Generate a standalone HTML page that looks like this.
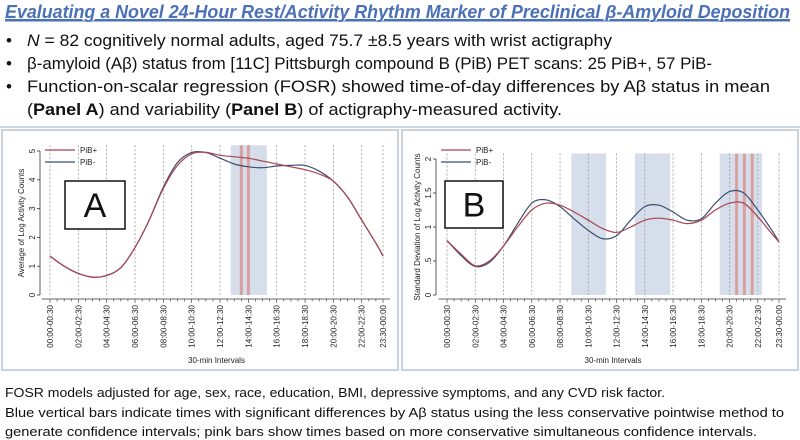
<!DOCTYPE html>
<html><head><meta charset="utf-8"><style>
html,body{margin:0;padding:0;background:#fff;width:800px;height:440px;overflow:hidden}
svg{display:block;font-family:"Liberation Sans",sans-serif}
</style></head><body>
<svg id="root" width="800" height="440" viewBox="0 0 800 440">
<text x="5" y="18" font-size="18" font-style="italic" font-weight="bold" fill="#4a70b8" text-decoration="underline" textLength="785" lengthAdjust="spacingAndGlyphs">Evaluating a Novel 24-Hour Rest/Activity Rhythm Marker of Preclinical β-Amyloid Deposition</text>
<line x1="5" y1="21" x2="790" y2="21" stroke="#4a70b8" stroke-width="1"/>
<g font-size="17" fill="#111">
<text x="6" y="46">•</text>
<text x="27" y="46" textLength="585" lengthAdjust="spacingAndGlyphs"><tspan font-style="italic">N</tspan> = 82 cognitively normal adults, aged 75.7 ±8.5 years with wrist actigraphy</text>
<text x="6" y="69">•</text>
<text x="27" y="69" textLength="685" lengthAdjust="spacingAndGlyphs">β-amyloid (Aβ) status from [11C] Pittsburgh compound B (PiB) PET scans: 25 PiB+, 57 PiB-</text>
<text x="6" y="92">•</text>
<text x="27" y="92" textLength="743" lengthAdjust="spacingAndGlyphs">Function-on-scalar regression (FOSR) showed time-of-day differences by Aβ status in mean</text>
<text x="27" y="115" textLength="535" lengthAdjust="spacingAndGlyphs">(<tspan font-weight="bold">Panel A</tspan>) and variability (<tspan font-weight="bold">Panel B</tspan>) of actigraphy-measured activity.</text>
</g>
<line x1="0" y1="127" x2="800" y2="127" stroke="#9aaac8" stroke-width="1"/>
<g font-size="13" fill="#111">
<text x="5" y="397" textLength="660" lengthAdjust="spacingAndGlyphs">FOSR models adjusted for age, sex, race, education, BMI, depressive symptoms, and any CVD risk factor.</text>
<text x="5" y="417" textLength="779" lengthAdjust="spacingAndGlyphs">Blue vertical bars indicate times with significant differences by Aβ status using the less conservative pointwise method to</text>
<text x="5" y="436" textLength="752" lengthAdjust="spacingAndGlyphs">generate confidence intervals; pink bars show times based on more conservative simultaneous confidence intervals.</text>
</g>
<g id="panelA"></g>
<g id="panelB"></g>
</svg>
<script>
const hours = [0,1,2,3,4,5,6,7,8,9,10,11,12,13,14,15,16,17,18,19,20,21,22,23,23.5];
const tickLabels = ["00:00-00:30","02:00-02:30","04:00-04:30","06:00-06:30","08:00-08:30","10:00-10:30","12:00-12:30","14:00-14:30","16:00-16:30","18:00-18:30","20:00-20:30","22:00-22:30","23:30-00:00"];
const tickHours = [0,2,4,6,8,10,12,14,16,18,20,22,23.5];
const meanPos = [1.35,1.0,0.75,0.62,0.68,0.95,1.65,2.6,3.7,4.5,4.9,4.95,4.85,4.8,4.75,4.65,4.55,4.45,4.35,4.2,3.95,3.4,2.6,1.8,1.35];
const meanNeg = [1.35,1.0,0.75,0.62,0.68,0.95,1.65,2.6,3.75,4.6,4.95,4.95,4.75,4.55,4.45,4.42,4.48,4.5,4.5,4.3,3.95,3.4,2.6,1.8,1.35];
const sdPos = [0.8,0.6,0.43,0.5,0.72,1.0,1.25,1.35,1.32,1.22,1.1,0.98,0.92,1.0,1.1,1.13,1.1,1.05,1.1,1.25,1.35,1.35,1.15,0.9,0.78];
const sdNeg = [0.8,0.58,0.42,0.48,0.72,1.05,1.35,1.4,1.3,1.12,0.95,0.83,0.87,1.1,1.3,1.32,1.22,1.1,1.12,1.35,1.52,1.5,1.25,0.95,0.78];
const blueA = [[12.75,15.3]];
const pinkA = [13.5,14.0];
const blueB = [[8.8,11.25],[13.3,15.8],[19.3,22.3]];
const pinkB = [20.5,21.05,21.6];
const yTicksA = [0,1,2,3,4,5];
const yTicksB = [0,0.5,1,1.5,2];
const yTickLabelsB = ["0",".5","1","1.5","2"];
const NS="http://www.w3.org/2000/svg";
function el(parent,tag,attrs,text){const e=document.createElementNS(NS,tag);for(const k in attrs)e.setAttribute(k,attrs[k]);if(text!=null)e.textContent=text;parent.appendChild(e);return e;}
function smooth(pts){let d="M"+pts[0][0]+","+pts[0][1];for(let i=0;i<pts.length-1;i++){const p0=pts[Math.max(0,i-1)],p1=pts[i],p2=pts[i+1],p3=pts[Math.min(pts.length-1,i+2)];const c1=[p1[0]+(p2[0]-p0[0])/6,p1[1]+(p2[1]-p0[1])/6],c2=[p2[0]-(p3[0]-p1[0])/6,p2[1]-(p3[1]-p1[1])/6];d+=" C"+c1[0].toFixed(1)+","+c1[1].toFixed(1)+" "+c2[0].toFixed(1)+","+c2[1].toFixed(1)+" "+p2[0].toFixed(1)+","+p2[1].toFixed(1);}return d;}
function panel(g,cfg){
  const X=h=>cfg.x0+(cfg.x1-cfg.x0)*h/23.5;
  const Y=v=>cfg.y0-(cfg.y0-cfg.yTop)*v/cfg.yMax;
  const frame=el(g,"rect",{x:cfg.bx,y:130,width:396,height:240,fill:"#fff",stroke:"#b8c4d6","stroke-width":1.5});
  
  
  const top=Y(cfg.yMax*1.04);
  cfg.blue.forEach(b=>{const r=el(g,"rect",{x:X(b[0]),y:top,width:X(b[1])-X(b[0]),height:cfg.y0-top,fill:"#d5deea"});
    
    });
  tickHours.forEach(h=>{const l=el(g,"line",{x1:X(h),x2:X(h),y1:top,y2:cfg.y0,stroke:"#999","stroke-dasharray":"2,2","stroke-width":0.8});
    
    });
  cfg.pink.forEach(p=>{const r=el(g,"rect",{x:X(p)-1.5,y:top,width:3,height:cfg.y0-top,fill:"#d9a0a0"});
    
    });
  el(g,"line",{x1:cfg.axX,x2:cfg.axX,y1:Y(cfg.yMax),y2:cfg.y0,stroke:"#333","stroke-width":0.8});
  el(g,"line",{x1:X(-0.6),x2:X(24),y1:cfg.y0+4,y2:cfg.y0+4,stroke:"#333","stroke-width":0.8});
  for(let i=0;i<48;i++){el(g,"line",{x1:X(i/2),x2:X(i/2),y1:cfg.y0+4,y2:cfg.y0+(i%4==0||i==47?8:6.5),stroke:"#333","stroke-width":0.6});}
  cfg.yTicks.forEach((v,i)=>{el(g,"line",{x1:cfg.axX-3,x2:cfg.axX,y1:Y(v),y2:Y(v),stroke:"#333","stroke-width":0.8});
    const t=el(g,"text",{x:cfg.axX-5,y:Y(v),"font-size":8,fill:"#222","text-anchor":"middle",transform:`rotate(-90 ${cfg.axX-5} ${Y(v)})`},cfg.yLabels[i]);
    
    });
  tickHours.forEach((h,i)=>{const x=X(h)+3,y=cfg.y0+10;const t=el(g,"text",{x:x,y:y,"font-size":8,fill:"#222","text-anchor":"end",transform:`rotate(-90 ${x} ${y})`},tickLabels[i]);
    
    });
  const xt=el(g,"text",{x:(cfg.x0+cfg.x1)/2,y:363,"font-size":8,fill:"#222","text-anchor":"middle"},"30-min Intervals");
  
  
  const yx=cfg.axX-16,yy=(cfg.y0+Y(cfg.yMax))/2;
  const yt=el(g,"text",{x:yx,y:yy,"font-size":8,fill:"#222","text-anchor":"middle",transform:`rotate(-90 ${yx} ${yy})`},cfg.yTitle);
  
  
  const pN=el(g,"path",{d:smooth(hours.map((h,i)=>[X(h),Y(cfg.neg[i])])),fill:"none",stroke:"#3d4f6e","stroke-width":1.2});
  
  
  const pP=el(g,"path",{d:smooth(hours.map((h,i)=>[X(h),Y(cfg.pos[i])])),fill:"none",stroke:"#a8454f","stroke-width":1.2});
  
  
  const lx=cfg.axX+5;
  el(g,"line",{x1:lx,x2:lx+30,y1:150,y2:150,stroke:"#a8454f","stroke-width":1.2});
  const l1=el(g,"text",{x:lx+35,y:153,"font-size":8,fill:"#222"},"PiB+");
  
  
  el(g,"line",{x1:lx,x2:lx+30,y1:162,y2:162,stroke:"#3d4f6e","stroke-width":1.2});
  const l2=el(g,"text",{x:lx+35,y:165,"font-size":8,fill:"#222"},"PiB-");
  
  
  const box=el(g,"rect",{x:cfg.box[0],y:cfg.box[1],width:cfg.box[2],height:cfg.box[3],fill:"#fff",stroke:"#111","stroke-width":1.5});
  
  
  const bl=el(g,"text",{x:cfg.box[0]+cfg.box[2]/2,y:cfg.box[1]+cfg.box[3]/2+12,"font-size":34,fill:"#111","text-anchor":"middle"},cfg.label);
  
  
}
panel(document.getElementById('panelA'),{bx:2,x0:50,x1:383,y0:295,yTop:151,yMax:5,axX:40,yTicks:yTicksA,yLabels:yTicksA.map(String),pos:meanPos,neg:meanNeg,blue:blueA,pink:pinkA,yTitle:"Average of Log Activity Counts",box:[65,181,60,48],label:"A"});
panel(document.getElementById('panelB'),{bx:402,x0:447,x1:779,y0:295,yTop:159,yMax:2,axX:436,yTicks:yTicksB,yLabels:yTickLabelsB,pos:sdPos,neg:sdNeg,blue:blueB,pink:pinkB,yTitle:"Standard Deviation of Log Activity Counts",box:[445,181,58,47],label:"B"});
</script>
</body></html>
